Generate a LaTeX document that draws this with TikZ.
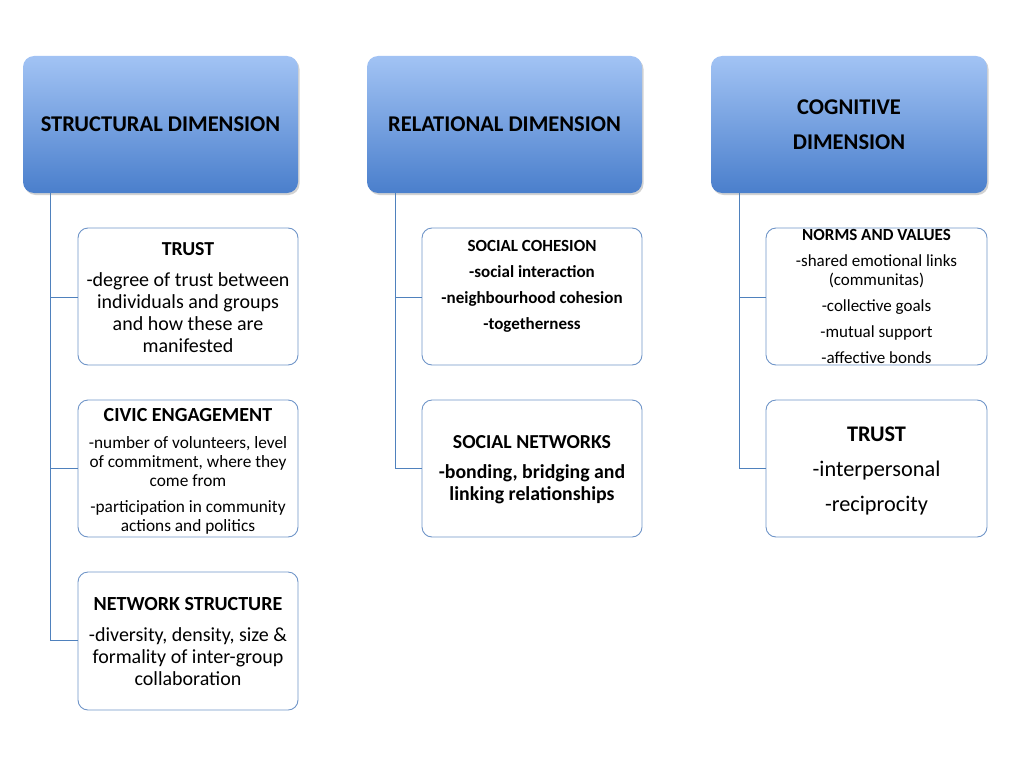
\documentclass[tikz,border=0pt]{standalone}
\usepackage{fontspec}
\setmainfont{Carlito}
\usetikzlibrary{shadows}
\definecolor{linec}{HTML}{4F81BD}
\definecolor{boxc}{HTML}{6F95C8}
\definecolor{topc}{HTML}{A2C3F4}
\definecolor{botc}{HTML}{4A7FCC}
\tikzset{
  header/.style={rounded corners=11pt, top color=topc, bottom color=botc, draw=none,
    drop shadow={shadow xshift=1.5pt, shadow yshift=-2pt, fill=black!35, opacity=0.5}},
  childbox/.style={draw=boxc, line width=0.9pt, rounded corners=10pt, fill=white},
  conn/.style={draw=linec, line width=1pt},
  txt/.style={align=center, inner sep=0pt, text=black},
}
\begin{document}
\begin{tikzpicture}[x=1pt,y=-1pt]
\useasboundingbox (0,0) rectangle (1024,768);
% headers
\path[header] (23,56) rectangle (298,193);
\path[header] (367,56) rectangle (642,193);
\path[header] (711,56) rectangle (987,193);
\node[txt, font=\fontsize{22.5}{35}\selectfont\bfseries] (h1) at (160.5,124) {STRUCTURAL DIMENSION};
\node[txt, font=\fontsize{22.5}{35}\selectfont\bfseries] (h2) at (504.5,124) {RELATIONAL DIMENSION};
\node[txt, font=\fontsize{22.5}{35}\selectfont\bfseries] (h3) at (849,124.5) {COGNITIVE\\DIMENSION};
\coordinate (s1) at (50,193);
\coordinate (s2) at (395,193);
\coordinate (s3) at (739,193);
% child boxes
\draw[childbox] (78,228) rectangle (298,365);
\draw[childbox] (78,400) rectangle (298,537);
\draw[childbox] (78,572) rectangle (298,710);
\draw[childbox] (422,228) rectangle (642,365);
\draw[childbox] (422,400) rectangle (642,537);
\draw[childbox] (766,228) rectangle (987,365);
\draw[childbox] (766,400) rectangle (987,537);
\coordinate (a1) at (78,297);
\coordinate (a2) at (78,468);
\coordinate (a3) at (78,640);
\coordinate (b1) at (422,297);
\coordinate (b2) at (422,468);
\coordinate (c1) at (766,297);
\coordinate (c2) at (766,468);
% connectors
\draw[conn] (s1) |- (a1);
\draw[conn] (s1) |- (a2);
\draw[conn] (s1) |- (a3);
\draw[conn] (s2) |- (b1);
\draw[conn] (s2) |- (b2);
\draw[conn] (s3) |- (c1);
\draw[conn] (s3) |- (c2);
% texts
\node[txt, font=\fontsize{20}{21.8}\selectfont] (t1) at (188,297.5)
  {{\fontsize{19.8}{21.8}\selectfont\textbf{TRUST}}\\[9pt]-degree of trust between\\individuals and groups\\and how these are\\manifested};
\node[txt, font=\fontsize{17.3}{19}\selectfont] (t2) at (188,471)
  {{\fontsize{20}{19}\selectfont\textbf{CIVIC ENGAGEMENT}}\\[8pt]-number of volunteers, level\\of commitment, where they\\come from\\[7pt]-participation in community\\actions and politics};
\node[txt, font=\fontsize{20}{21.8}\selectfont] (t3) at (188,641.5)
  {\textbf{NETWORK STRUCTURE}\\[9pt]-diversity, density, size \&\\formality of inter-group\\collaboration};
\node[txt, font=\fontsize{17}{26}\selectfont\bfseries] (t4) at (532,286)
  {SOCIAL COHESION\\-social interaction\\-neighbourhood cohesion\\-togetherness};
\node[txt, font=\fontsize{19.8}{22}\selectfont\bfseries] (t5) at (532,470)
  {SOCIAL NETWORKS\\[8pt]-bonding, bridging and\\linking relationships};
\node[txt, font=\fontsize{17}{19}\selectfont] (t6) at (876.5,296.5)
  {\textbf{NORMS AND VALUES}\\[7pt]-shared emotional links\\(communitas)\\[7pt]-collective goals\\[7pt]-mutual support\\[7pt]-affective bonds};
\node[txt, font=\fontsize{22.3}{35}\selectfont] (t7) at (876.5,470.5)
  {\textbf{TRUST}\\-interpersonal\\-reciprocity};
\end{tikzpicture}
\end{document}
